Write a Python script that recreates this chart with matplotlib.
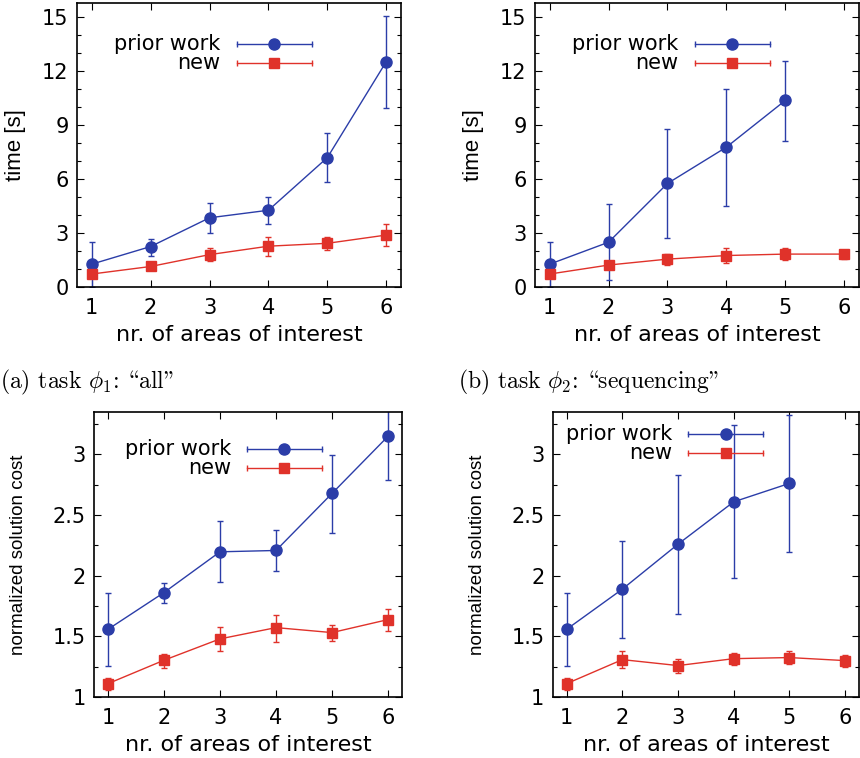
import numpy as np
import matplotlib.pyplot as plt
from matplotlib.ticker import MultipleLocator

# number of areas of interest
n_a = [1, 2, 3, 4, 5, 6]
n_b = [1, 2, 3, 4, 5]

# time [s], task phi1 "all"
time_prior_a = [1.27, 2.25, 3.85, 4.27, 7.2, 12.54]
time_prior_a_lo = [0.0, 1.73, 2.98, 3.50, 5.82, 9.96]
time_prior_a_hi = [2.49, 2.69, 4.70, 5.01, 8.55, 15.1]
time_new_a = [0.72, 1.14, 1.80, 2.27, 2.43, 2.89]
time_new_a_lo = [0.68, 1.08, 1.45, 1.73, 2.06, 2.27]
time_new_a_hi = [0.76, 1.20, 2.15, 2.78, 2.80, 3.48]

# time [s], task phi2 "sequencing"
time_prior_b = [1.27, 2.49, 5.76, 7.78, 10.38]
time_prior_b_lo = [0.0, 0.40, 2.75, 4.49, 8.13]
time_prior_b_hi = [2.49, 4.60, 8.77, 11.0, 12.58]
time_new_b = [0.72, 1.22, 1.55, 1.75, 1.83, 1.83]
time_new_b_lo = [0.68, 1.12, 1.22, 1.33, 1.51, 1.55]
time_new_b_hi = [0.76, 1.32, 1.85, 2.16, 2.16, 2.07]

# normalized solution cost, task phi1
cost_prior_a = [1.558, 1.861, 2.197, 2.208, 2.678, 3.149]
cost_prior_a_lo = [1.259, 1.779, 1.949, 2.037, 2.356, 2.79]
cost_prior_a_hi = [1.861, 1.941, 2.447, 2.376, 2.997, 3.45]
cost_new_a = [1.110, 1.303, 1.479, 1.572, 1.531, 1.638]
cost_new_a_lo = [1.055, 1.237, 1.377, 1.457, 1.459, 1.547]
cost_new_a_hi = [1.157, 1.355, 1.578, 1.680, 1.597, 1.729]

# normalized solution cost, task phi2
cost_prior_b = [1.558, 1.889, 2.26, 2.609, 2.761]
cost_prior_b_lo = [1.259, 1.487, 1.688, 1.977, 2.197]
cost_prior_b_hi = [1.861, 2.29, 2.829, 3.239, 3.322]
cost_new_b = [1.110, 1.308, 1.259, 1.316, 1.325, 1.30]
cost_new_b_lo = [1.055, 1.237, 1.198, 1.267, 1.275, 1.248]
cost_new_b_hi = [1.157, 1.377, 1.316, 1.366, 1.377, 1.349]

BLUE = '#2b3da8'
RED = '#e0322a'
wide = ['DejaVu Sans']
sans = ['Liberation Sans', 'DejaVu Sans']

plt.rcParams['font.family'] = wide
plt.rcParams['mathtext.fontset'] = 'cm'

fig = plt.figure(figsize=(8.6, 7.58), dpi=100)


def errs(y, lo, hi):
    y = np.array(y)
    return [y - np.array(lo), np.array(hi) - y]


def key(ax, x0, x1, y, color, marker, ms, label):
    # gnuplot style key: text, line with small caps at the ends, marker in middle
    t = ax.transAxes
    ax.plot([x0, x1], [y, y], color=color, lw=1.0, transform=t, clip_on=False)
    ax.plot([x0, x1], [y, y], ls='none', marker='|', ms=5, mew=1.0,
            color=color, transform=t, clip_on=False)
    ax.plot([(x0 + x1) / 2], [y], ls='none', marker=marker, ms=ms,
            color=color, transform=t, clip_on=False)
    ax.text(x0 - 0.052, y, label, transform=t, ha='right', va='center',
            fontsize=15)


def panel(rect, x1, y1, lo1, hi1, x2, y2, lo2, hi2, ylim, major, minor,
          ylabel, lab_size, lab_x, key_pos):
    ax = fig.add_axes(rect)
    ax.errorbar(x1, y1, yerr=errs(y1, lo1, hi1), color=BLUE, lw=1.0,
                marker='o', ms=8, capsize=2.5, elinewidth=1.0, capthick=1.0)
    ax.errorbar(x2, y2, yerr=errs(y2, lo2, hi2), color=RED, lw=1.0,
                marker='s', ms=7.5, capsize=2.5, elinewidth=1.0, capthick=1.0)
    ax.set_xlim(0.75, 6.25)
    ax.set_ylim(*ylim)
    ax.xaxis.set_major_locator(MultipleLocator(1))
    ax.yaxis.set_major_locator(MultipleLocator(major))
    ax.yaxis.set_minor_locator(MultipleLocator(minor))
    ax.yaxis.set_major_formatter(lambda v, p: '%g' % v)
    ax.tick_params(which='both', direction='in', top=True, right=True,
                   labelsize=15)
    ax.tick_params(which='major', length=5, width=0.8)
    ax.tick_params(which='minor', length=3, width=0.8)
    ax.tick_params(axis='x', pad=8)
    ax.tick_params(axis='y', pad=6)
    for s in ax.spines.values():
        s.set_linewidth(1.2)
    ax.set_xlabel('nr. of areas of interest', fontsize=16, labelpad=5)
    ax.set_ylabel(ylabel, family=sans, fontsize=lab_size)
    ax.yaxis.set_label_coords(lab_x, 0.5)
    kx0, kx1, ky0, ky1 = key_pos
    key(ax, kx0, kx1, ky0, BLUE, 'o', 8, 'prior work')
    key(ax, kx0, kx1, ky1, RED, 's', 7.5, 'new')
    return ax


panel([0.0895, 0.6214, 0.3768, 0.3746], n_a, time_prior_a, time_prior_a_lo,
      time_prior_a_hi, n_a, time_new_a, time_new_a_lo, time_new_a_hi,
      (0, 15.8), 3, 1, 'time [s]', 16, -0.157, (0.494, 0.725, 0.856, 0.789))
panel([0.622, 0.6214, 0.3768, 0.3746], n_b, time_prior_b, time_prior_b_lo,
      time_prior_b_hi, n_a, time_new_b, time_new_b_lo, time_new_b_hi,
      (0, 15.8), 3, 1, 'time [s]', 16, -0.157, (0.494, 0.725, 0.856, 0.789))
panel([0.1093, 0.0805, 0.3581, 0.376], n_a, cost_prior_a, cost_prior_a_lo,
      cost_prior_a_hi, n_a, cost_new_a, cost_new_a_lo, cost_new_a_hi,
      (1, 3.35), 0.5, 0.25, 'normalized solution cost', 13.5, -0.217,
      (0.497, 0.74, 0.871, 0.805))
panel([0.6427, 0.0805, 0.3561, 0.376], n_b, cost_prior_b, cost_prior_b_lo,
      cost_prior_b_hi, n_a, cost_new_b, cost_new_b_lo, cost_new_b_hi,
      (1, 3.35), 0.5, 0.25, 'normalized solution cost', 13.5, -0.218,
      (0.443, 0.688, 0.923, 0.855))

# captions in Computer Modern; in cmr10 (OT1 layout) '\' is the opening and
# '"' the closing double quote
cap = ['cmr10', 'DejaVu Serif']
fig.text(0.0, 1 - 382 / 758, '(a) task $\\phi_1$: \\all"', family=cap,
         fontsize=17, va='center', ha='left')
fig.text(458 / 860, 1 - 382 / 758, '(b) task $\\phi_2$: \\sequencing"',
         family=cap, fontsize=17, va='center', ha='left')

fig.savefig('out.png', dpi=100)
